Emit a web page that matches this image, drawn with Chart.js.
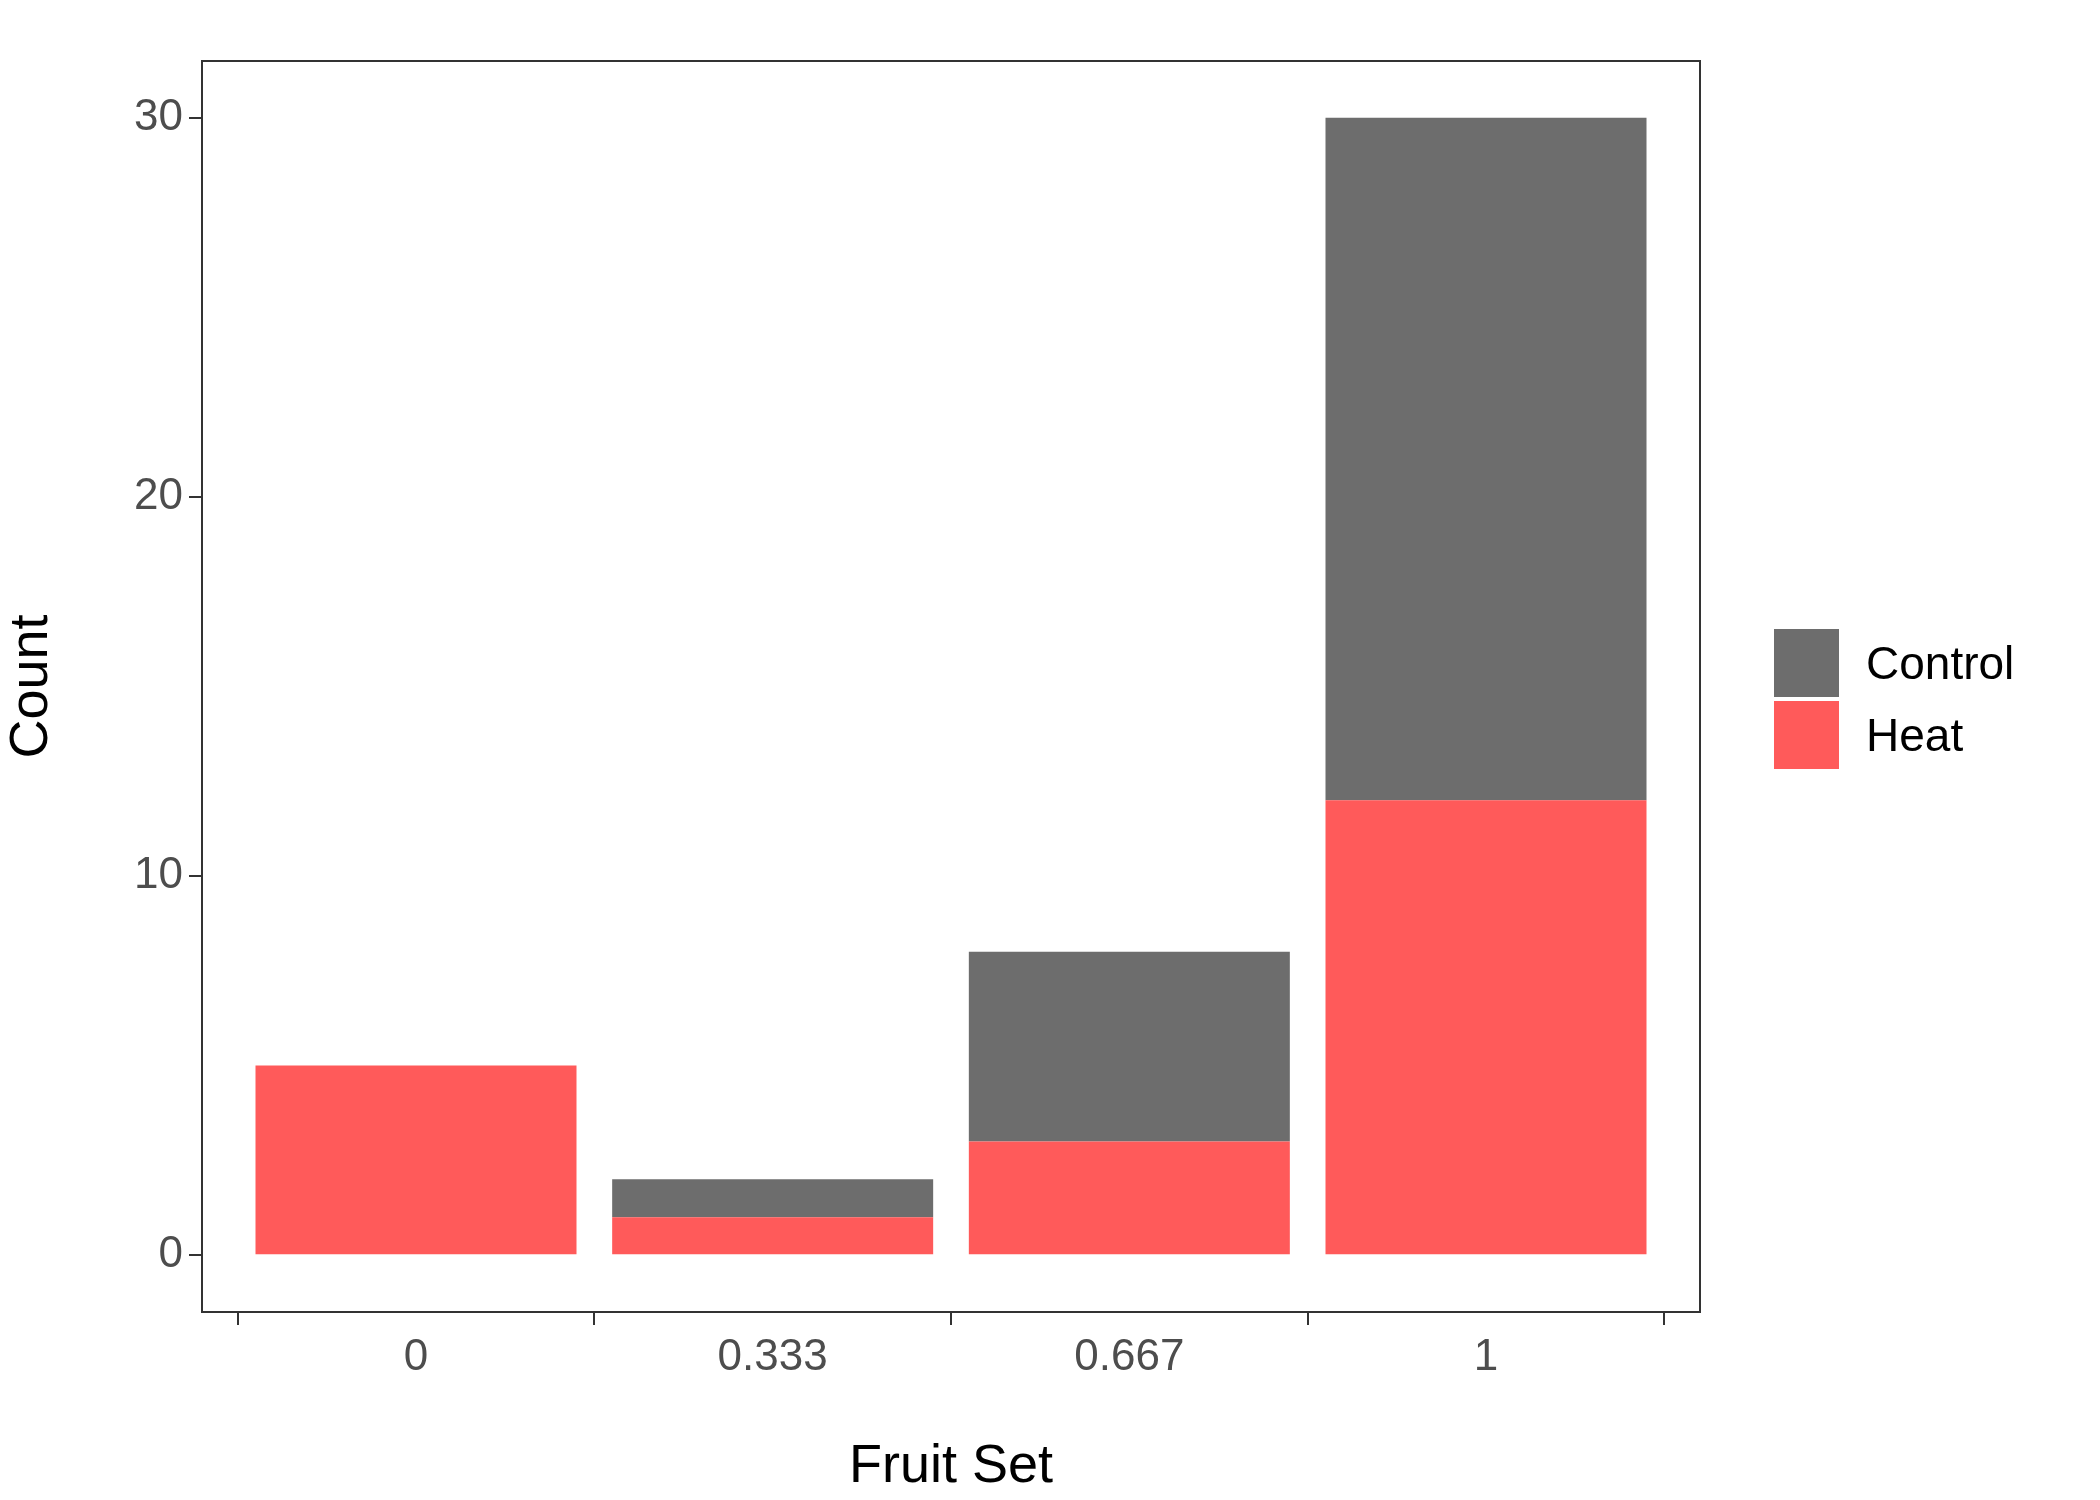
<!DOCTYPE html>
<html>
<head>
<meta charset="utf-8">
<script src="https://cdn.jsdelivr.net/npm/chart.js@4"></script>
<style>
  body { margin: 0; background: #fff; font-family: 'Liberation Sans', Arial, sans-serif; }
  #wrap { position: relative; width: 2100px; height: 1500px; }
  .leg { position: absolute; left: 1774px; display: flex; align-items: center; font-size: 46px; color: #000; }
  .sw { width: 65px; height: 68px; margin-right: 27px; }
</style>
</head>
<body>
<div id="wrap">
  <canvas id="c" width="2100" height="1500"></canvas>
  <div class="leg" style="top:629px"><div class="sw" style="background:#6d6d6d"></div>Control</div>
  <div class="leg" style="top:701px"><div class="sw" style="background:#ff5a5a"></div>Heat</div>
</div>
<script>
  const CATEGORIES = ['0', '0.333', '0.667', '1'];
  const HEAT = [5, 1, 3, 12];
  const CONTROL = [0, 1, 5, 18];
  const Y_TICKS = [0, 10, 20, 30];

  const box = {
    id: 'box',
    afterDraw(chart) {
      const { ctx, chartArea: a } = chart;
      ctx.save();
      ctx.strokeStyle = '#333';
      ctx.lineWidth = 2;
      ctx.strokeRect(a.left, a.top, a.right - a.left, a.bottom - a.top);
      ctx.restore();
    }
  };

  const tickFont = { family: 'Liberation Sans', size: 44 };
  const titleFont = { family: 'Liberation Sans', size: 54 };
  const axisGrid = { drawOnChartArea: false, drawTicks: true, tickLength: 13, color: '#333', lineWidth: 2 };

  new Chart(document.getElementById('c'), {
    type: 'bar',
    data: {
      datasets: [
        { label: 'Heat', data: HEAT.map((v, i) => ({ x: i, y: v })), backgroundColor: '#ff5a5a' },
        { label: 'Control', data: CONTROL.map((v, i) => ({ x: i, y: v })), backgroundColor: '#6d6d6d' },
      ],
    },
    options: {
      responsive: false,
      animation: false,
      layout: { padding: { top: 61, right: 400, left: 0, bottom: 0 } },
      datasets: { bar: { barPercentage: 0.9, categoryPercentage: 1 } },
      plugins: { legend: { display: false }, tooltip: { enabled: false } },
      scales: {
        x: {
          type: 'linear', stacked: true, min: -0.6, max: 3.6, offset: false,
          afterBuildTicks: s => { s.ticks = CATEGORIES.map((_, i) => ({ value: i })); },
          ticks: { callback: v => CATEGORIES[v], color: '#4d4d4d', font: tickFont, padding: 6, maxRotation: 0 },
          grid: axisGrid, border: { display: false },
          title: { display: true, text: 'Fruit Set', color: '#000', font: titleFont, padding: 0 },
          afterFit: s => { s.height = 188; },
        },
        y: {
          stacked: true, min: -1.5, max: 31.5,
          afterBuildTicks: s => { s.ticks = Y_TICKS.map(v => ({ value: v })); },
          ticks: { color: '#4d4d4d', font: tickFont, padding: 6 },
          grid: axisGrid, border: { display: false },
          title: { display: true, text: 'Count', color: '#000', font: titleFont, padding: 0 },
          afterFit: s => { s.width = 202; },
        },
      },
    },
    plugins: [box],
  });
</script>
</body>
</html>
